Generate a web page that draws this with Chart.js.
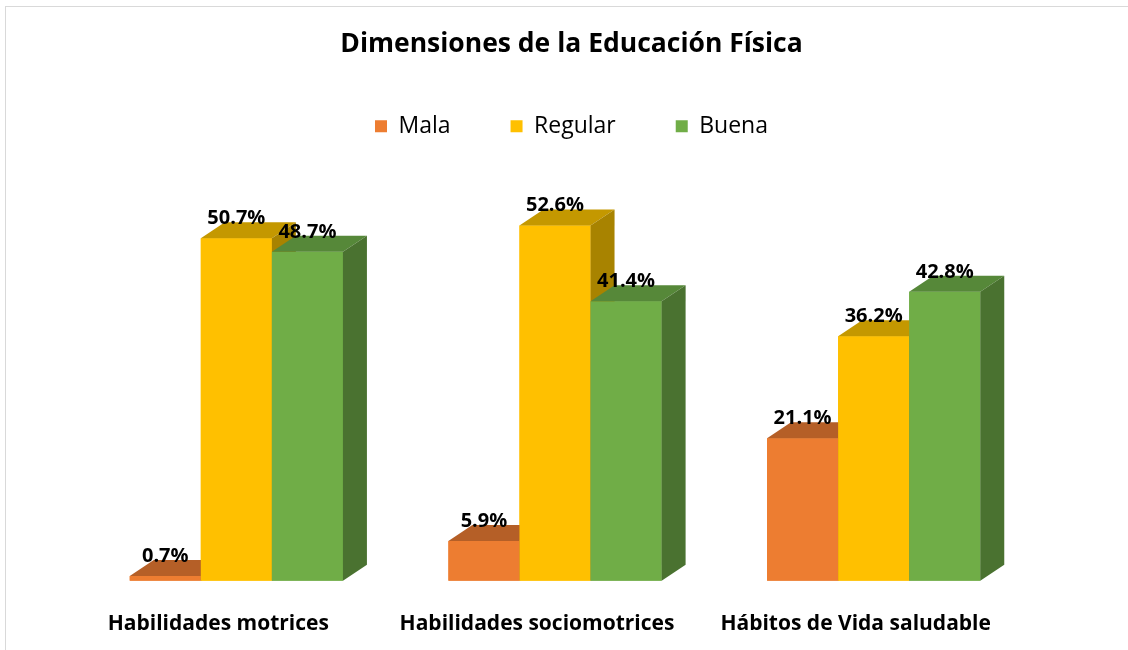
<!DOCTYPE html>
<html><head><meta charset="utf-8">
<script src="https://cdn.jsdelivr.net/npm/chart.js@4"></script>
<style>
html,body{margin:0;padding:0;background:#fff;overflow:hidden;}
#frame{position:absolute;left:5px;top:6px;width:1200px;height:700px;border-left:1px solid #d9d9d9;border-top:1px solid #d9d9d9;}
#wrap{position:absolute;left:0;top:0;width:1128px;height:650px;}
</style></head><body>
<div id="frame"></div>
<div id="wrap"><canvas id="c" width="1128" height="650"></canvas></div>
<script>
const categories = ['Habilidades motrices', 'Habilidades sociomotrices', 'Hábitos de Vida saludable'];
const seriesNames = ['Mala', 'Regular', 'Buena'];
const mala = [0.7, 5.9, 21.1];
const regular = [50.7, 52.6, 36.2];
const buena = [48.7, 41.4, 42.8];

const frontColors = ['#ED7D31', '#FFC000', '#70AD47'];
const topColors = ['#B55F27', '#C49800', '#568839'];
const sideColors = ['#9C5222', '#A88300', '#4A7230'];
const DX = 24, DY = 16;

const bar3d = {
  id: 'bar3d',
  afterDatasetsDraw(chart) {
    const ctx = chart.ctx;
    // draw left-to-right within each group so nearer neighbours hide side faces
    chart.data.datasets.forEach((ds, di) => {
      const meta = chart.getDatasetMeta(di);
      meta.data.forEach(bar => {
        bar.draw(ctx);
        const p = bar.getProps(['x', 'y', 'base', 'width'], true);
        const l = p.x - p.width / 2, r = p.x + p.width / 2;
        ctx.save();
        ctx.fillStyle = topColors[di];
        ctx.beginPath();
        ctx.moveTo(l, p.y); ctx.lineTo(l + DX, p.y - DY); ctx.lineTo(r + DX, p.y - DY); ctx.lineTo(r, p.y);
        ctx.closePath(); ctx.fill();
        ctx.fillStyle = sideColors[di];
        ctx.beginPath();
        ctx.moveTo(r, p.y); ctx.lineTo(r + DX, p.y - DY); ctx.lineTo(r + DX, p.base - DY); ctx.lineTo(r, p.base);
        ctx.closePath(); ctx.fill();
        ctx.restore();
      });
    });
    ctx.save();
    ctx.font = 'bold 20px "Open Sans"';
    ctx.fillStyle = '#000';
    ctx.textAlign = 'center';
    ctx.textBaseline = 'alphabetic';
    chart.data.datasets.forEach((ds, di) => {
      const meta = chart.getDatasetMeta(di);
      meta.data.forEach((bar, j) => {
        const p = bar.getProps(['x', 'y'], true);
        ctx.fillText(ds.data[j].toFixed(1) + '%', p.x, p.y - 14);
      });
    });
    ctx.restore();
  }
};

const seriesData = [mala, regular, buena];
const chart = new Chart(document.getElementById('c'), {
  type: 'bar',
  data: {
    labels: categories,
    datasets: seriesNames.map((name, i) => ({
      label: name,
      data: seriesData[i],
      backgroundColor: frontColors[i],
      borderWidth: 0,
      categoryPercentage: 0.669,
      barPercentage: 1.0
    }))
  },
  options: {
    responsive: false,
    animation: false,
    events: [],
    layout: { padding: { left: 15, right: 0, top: 10, bottom: -18 } },
    plugins: {
      title: {
        display: true,
        text: 'Dimensiones de la Educación Física',
        color: '#000',
        font: { family: '"Open Sans"', size: 26.5, weight: 'bold' },
        padding: { top: 19, bottom: -6 }
      },
      legend: {
        display: true,
        position: 'top',
        labels: {
          boxWidth: 12,
          boxHeight: 12,
          padding: 60,
          color: '#000',
          font: { family: '"Open Sans"', size: 23 }
        }
      },
      tooltip: { enabled: false }
    },
    scales: {
      x: {
        grid: { display: false, drawTicks: false },
        border: { display: false },
        ticks: {
          padding: 31,
          labelOffset: -18,
          color: '#000',
          font: { family: '"Open Sans"', size: 21, weight: 'bold' }
        }
      },
      y: {
        position: 'left',
        min: 0,
        max: 64.1,
        grid: { display: false },
        border: { display: false },
        ticks: { display: false },
        afterFit: (s) => { s.width = 62; }
      },
      y2: {
        position: 'right',
        min: 0,
        max: 64.1,
        grid: { display: false },
        border: { display: false },
        ticks: { display: false },
        afterFit: (s) => { s.width = 95; }
      }
    }
  },
  plugins: [bar3d]
});
</script>
</body></html>
